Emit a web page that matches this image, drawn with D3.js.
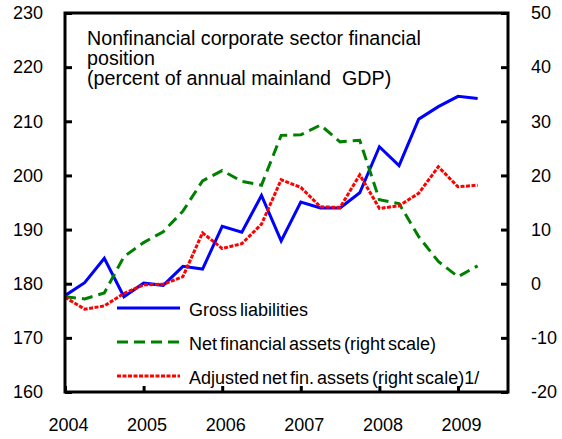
<!DOCTYPE html>
<html>
<head>
<meta charset="utf-8">
<script src="https://cdn.jsdelivr.net/npm/d3@7"></script>
<style>
  body { margin: 0; background: #fff; }
  svg text { font-family: "Liberation Sans", Arial, sans-serif; fill: #000; }
</style>
</head>
<body>
<div id="chart"></div>
<script>
// Quarterly data, 2004Q1 - 2009Q2
var quarters = d3.range(22).map(function(i) { return 2004 + i / 4; });

// Gross liabilities (left scale)
var grossLiabilities = [177.8, 180.2, 184.7, 177.6, 180.1, 179.7, 183.2, 182.7, 190.6, 189.5, 196.3,
  187.9, 195.1, 194.0, 194.0, 196.8, 205.3, 201.8, 210.4, 212.7, 214.6, 214.2];

// Net financial assets (right scale)
var netFinAssets = [-2.4, -2.8, -1.7, 5.0, 7.6, 9.6, 13.4, 19.0, 20.9, 18.9, 18.2,
  27.4, 27.5, 29.3, 26.2, 26.5, 15.5, 14.8, 8.7, 4.1, 1.3, 3.3];

// Adjusted net fin. assets (right scale)
var adjNetFinAssets = [-2.5, -4.7, -4.1, -1.8, -0.2, -0.1, 1.3, 9.4, 6.5, 7.4, 11.0,
  19.2, 17.8, 14.2, 14.1, 20.1, 13.9, 14.4, 16.7, 21.6, 17.9, 18.2];

var yearTicks = [2004, 2005, 2006, 2007, 2008, 2009];
var leftTicks = [160, 170, 180, 190, 200, 210, 220, 230];
var rightTicks = [-20, -10, 0, 10, 20, 30, 40, 50];

var titleLines = ["Nonfinancial corporate sector financial", "position", "(percent of annual mainland  GDP)"];
var legendLabels = ["Gross liabilities", "Net financial assets (right scale)", "Adjusted net fin. assets (right scale)1/"];

var svgWidth = 562;
var svgHeight = 439;
var margin = { top: 13, right: 54, bottom: 47, left: 65 };
var chartWidth = svgWidth - margin.left - margin.right;
var chartHeight = svgHeight - margin.top - margin.bottom;

var svg = d3.select("#chart")
  .append("svg")
  .attr("width", svgWidth)
  .attr("height", svgHeight);

var chartGroup = svg.append("g")
  .attr("transform", `translate(${margin.left}, ${margin.top})`);

// Scales
var xScale = d3.scaleLinear()
  .domain([2004, 2004 + chartWidth / 78.6])
  .range([0, chartWidth]);

var yLeft = d3.scaleLinear().domain([160, 230]).range([chartHeight, 0]);
var yRight = d3.scaleLinear().domain([-20, 50]).range([chartHeight, 0]);

// plain hyphen for negatives, like the original
var plain = function(d) { return String(d); };

// Axes (ticks point inward)
var leftAxis = d3.axisLeft(yLeft).tickValues(leftTicks).tickSize(-7).tickPadding(22).tickFormat(plain);
var rightAxis = d3.axisRight(yRight).tickValues(rightTicks).tickSize(-7).tickPadding(23).tickFormat(plain);
var bottomAxis = d3.axisBottom(xScale).tickValues(yearTicks).tickSize(-6).tickPadding(26).tickFormat(plain);

function styleAxis(g) {
  g.select(".domain").remove();
  g.selectAll(".tick line").attr("stroke", "#000").attr("stroke-width", 3);
  g.selectAll(".tick text").attr("font-size", "18px")
    .style("font-family", "'Liberation Sans', Arial, sans-serif");
}

chartGroup.append("g").call(leftAxis).call(styleAxis);
chartGroup.append("g").attr("transform", `translate(${chartWidth}, 0)`).call(rightAxis).call(styleAxis);
chartGroup.append("g").attr("transform", `translate(0, ${chartHeight})`).call(bottomAxis).call(styleAxis)
  .selectAll(".tick text").attr("dx", 3);

// Lines
var leftLine = d3.line()
  .x(function(d, i) { return xScale(quarters[i]); })
  .y(function(d) { return yLeft(d); });

var rightLine = d3.line()
  .x(function(d, i) { return xScale(quarters[i]); })
  .y(function(d) { return yRight(d); });

var series = [
  { values: grossLiabilities, line: leftLine, color: "#0000ff", dash: null },
  { values: netFinAssets, line: rightLine, color: "#008000", dash: "11,6" },
  { values: adjNetFinAssets, line: rightLine, color: "#ff0000", dash: "4,1.5" }
];

series.forEach(function(s) {
  chartGroup.append("path")
    .datum(s.values)
    .attr("d", s.line)
    .attr("fill", "none")
    .attr("stroke", s.color)
    .attr("stroke-width", 3)
    .attr("stroke-linejoin", "miter")
    .attr("stroke-dasharray", s.dash);
});

// Frame
chartGroup.append("rect")
  .attr("width", chartWidth)
  .attr("height", chartHeight)
  .attr("fill", "none")
  .attr("stroke", "#000")
  .attr("stroke-width", 3);

// Title
chartGroup.selectAll(".title")
  .data(titleLines)
  .enter()
  .append("text")
  .attr("class", "title")
  .attr("x", 22)
  .attr("y", function(d, i) { return 32 + i * 20; })
  .attr("font-size", "19.7px")
  .style("white-space", "pre")
  .text(function(d) { return d; });

// Legend
var legend = chartGroup.selectAll(".legend")
  .data(series)
  .enter()
  .append("g")
  .attr("class", "legend")
  .attr("transform", function(d, i) { return `translate(52, ${295 + i * 34})`; });

legend.append("line")
  .attr("x1", 0)
  .attr("x2", 63)
  .attr("stroke", function(d) { return d.color; })
  .attr("stroke-width", 3)
  .attr("stroke-dasharray", function(d) { return d.dash; });

legend.append("text")
  .attr("x", 72)
  .attr("y", 8)
  .attr("font-size", "18px")
  .style("word-spacing", "-2px")
  .text(function(d, i) { return legendLabels[i]; });
</script>
</body>
</html>
